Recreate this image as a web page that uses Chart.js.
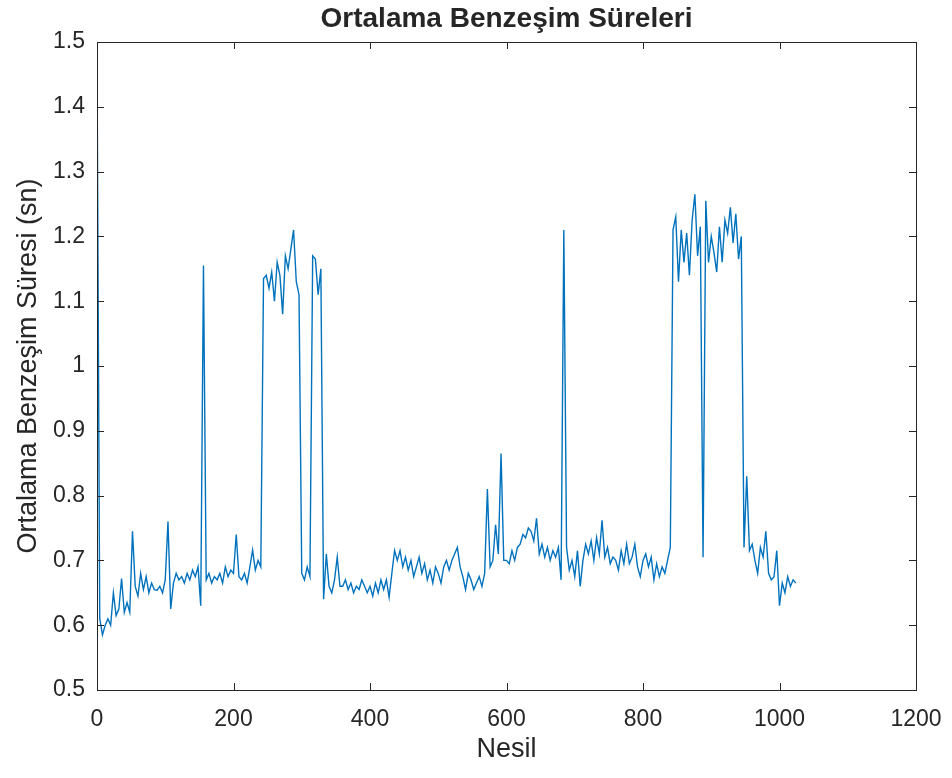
<!DOCTYPE html>
<html>
<head>
<meta charset="utf-8">
<script src="https://cdn.jsdelivr.net/npm/chart.js@4/dist/chart.umd.min.js"></script>
<style>
  html, body { margin: 0; padding: 0; background: #fff; }
  #wrap { width: 952px; height: 778px; }
</style>
</head>
<body>
<div id="wrap"><canvas id="sureChart" width="952" height="778"></canvas></div>
<script>
// ortalama benzesim suresi, her 4 nesilde bir (sn)
const sure = [
  1.48, 0.61, 0.585, 0.60, 0.61, 0.60, 0.65, 0.615, 0.625, 0.672,
  0.62, 0.635, 0.62, 0.745, 0.66, 0.645, 0.68, 0.655, 0.675, 0.65,
  0.665, 0.655, 0.654, 0.66, 0.65, 0.67, 0.76, 0.625, 0.665, 0.68,
  0.67, 0.675, 0.665, 0.68, 0.67, 0.685, 0.675, 0.69, 0.63, 1.155,
  0.67, 0.68, 0.665, 0.675, 0.67, 0.68, 0.665, 0.69, 0.675, 0.685,
  0.68, 0.74, 0.675, 0.67, 0.68, 0.665, 0.69, 0.716, 0.685, 0.70,
  0.69, 1.135, 1.14, 1.12, 1.145, 1.10, 1.16, 1.14, 1.08, 1.17,
  1.15, 1.18, 1.21, 1.13, 1.11, 0.68, 0.67, 0.69, 0.675, 1.17,
  1.165, 1.11, 1.15, 0.64, 0.71, 0.66, 0.65, 0.67, 0.705, 0.66,
  0.66, 0.67, 0.655, 0.665, 0.65, 0.66, 0.655, 0.67, 0.66, 0.65,
  0.66, 0.645, 0.665, 0.65, 0.67, 0.655, 0.67, 0.643, 0.68, 0.715,
  0.70, 0.715, 0.69, 0.705, 0.685, 0.70, 0.675, 0.69, 0.705, 0.68,
  0.695, 0.67, 0.685, 0.665, 0.69, 0.68, 0.665, 0.69, 0.70, 0.685,
  0.70, 0.71, 0.72, 0.69, 0.675, 0.655, 0.68, 0.67, 0.655, 0.665,
  0.675, 0.66, 0.68, 0.81, 0.69, 0.70, 0.755, 0.71, 0.865, 0.70,
  0.70, 0.695, 0.715, 0.70, 0.72, 0.725, 0.74, 0.735, 0.75, 0.745,
  0.73, 0.765, 0.71, 0.725, 0.705, 0.72, 0.70, 0.715, 0.705, 0.72,
  0.67, 1.21, 0.72, 0.685, 0.70, 0.675, 0.715, 0.66, 0.70, 0.725,
  0.71, 0.73, 0.70, 0.735, 0.71, 0.762, 0.705, 0.72, 0.695, 0.705,
  0.70, 0.685, 0.715, 0.695, 0.725, 0.695, 0.705, 0.725, 0.69, 0.675,
  0.70, 0.71, 0.69, 0.705, 0.67, 0.695, 0.675, 0.69, 0.68, 0.70,
  0.72, 1.21, 1.23, 1.13, 1.21, 1.16, 1.205, 1.14, 1.225, 1.265,
  1.17, 1.215, 0.705, 1.255, 1.16, 1.20, 1.175, 1.145, 1.215, 1.16,
  1.225, 1.205, 1.245, 1.19, 1.235, 1.165, 1.20, 0.72, 0.83, 0.715,
  0.725, 0.70, 0.68, 0.72, 0.705, 0.745, 0.68, 0.67, 0.675, 0.715,
  0.63, 0.665, 0.65, 0.675, 0.66, 0.67, 0.665
];
const nesil = sure.map((_, i) => i * 4);

const xTicks = [0, 200, 400, 600, 800, 1000, 1200];
const yTicks = [0.5, 0.6, 0.7, 0.8, 0.9, 1, 1.1, 1.2, 1.3, 1.4, 1.5];
const baslik = 'Ortalama Benzeşim Süreleri';

const textColor = '#262626';
const lineColor = '#0072BD';
const fontFam = '"Liberation Sans", Arial, sans-serif';

// cerceve, iceri donuk tik isaretleri ve cizim alanina ortali baslik
const boxTicks = {
  id: 'boxTicks',
  afterDatasetsDraw(chart) {
    const { ctx, chartArea: a, scales: { x, y } } = chart;
    const len = 7;
    ctx.save();
    ctx.strokeStyle = textColor;
    ctx.lineWidth = 1;
    ctx.beginPath();
    xTicks.forEach(v => {
      const px = Math.round(x.getPixelForValue(v)) + 0.5;
      ctx.moveTo(px, a.bottom); ctx.lineTo(px, a.bottom - len);
      ctx.moveTo(px, a.top); ctx.lineTo(px, a.top + len);
    });
    yTicks.forEach(v => {
      const py = Math.round(y.getPixelForValue(v)) + 0.5;
      ctx.moveTo(a.left, py); ctx.lineTo(a.left + len, py);
      ctx.moveTo(a.right, py); ctx.lineTo(a.right - len, py);
    });
    ctx.stroke();
    ctx.strokeRect(Math.round(a.left) + 0.5, Math.round(a.top) + 0.5,
      Math.round(a.right - a.left), Math.round(a.bottom - a.top));

    ctx.fillStyle = textColor;
    ctx.font = 'bold 28px ' + fontFam;
    ctx.textAlign = 'center';
    ctx.textBaseline = 'middle';
    ctx.fillText(baslik, (a.left + a.right) / 2, 19);
    ctx.restore();
  }
};

const ctx = document.getElementById('sureChart').getContext('2d');
new Chart(ctx, {
  type: 'line',
  data: {
    datasets: [{
      data: nesil.map((n, i) => ({ x: n, y: sure[i] })),
      borderColor: lineColor,
      borderWidth: 1.4,
      pointRadius: 0,
      tension: 0,
      fill: false
    }]
  },
  options: {
    responsive: false,
    animation: false,
    layout: { padding: { left: 0, right: 36, top: 42, bottom: 0 } },
    plugins: {
      legend: { display: false },
      tooltip: { enabled: false },
      title: { display: false }
    },
    scales: {
      x: {
        type: 'linear',
        min: 0,
        max: 1200,
        afterBuildTicks(scale) { scale.ticks = xTicks.map(v => ({ value: v })); },
        afterFit(scale) {
          scale.height = 88;
          // son etiket tasmasi cizim alanini daraltmasin
          scale.paddingLeft = 0;
          scale.paddingRight = 0;
        },
        grid: { display: false, drawTicks: false },
        border: { display: false },
        ticks: {
          color: textColor,
          padding: 16,
          maxRotation: 0,
          font: { family: fontFam, size: 23 },
          callback: v => String(v)
        },
        title: {
          display: true,
          text: 'Nesil',
          color: textColor,
          font: { family: fontFam, size: 27 },
          padding: { bottom: 12 }
        }
      },
      y: {
        min: 0.5,
        max: 1.5,
        afterBuildTicks(scale) { scale.ticks = yTicks.map(v => ({ value: v })); },
        afterFit(scale) { scale.width = 97; },
        grid: { display: false, drawTicks: false },
        border: { display: false },
        ticks: {
          color: textColor,
          padding: 12,
          font: { family: fontFam, size: 23 },
          callback: v => String(Math.round(v * 10) / 10)
        },
        title: {
          display: true,
          text: 'Ortalama Benzeşim Süresi (sn)',
          color: textColor,
          font: { family: fontFam, size: 27 },
          padding: { top: 12 }
        }
      }
    }
  },
  plugins: [boxTicks]
});
</script>
</body>
</html>
